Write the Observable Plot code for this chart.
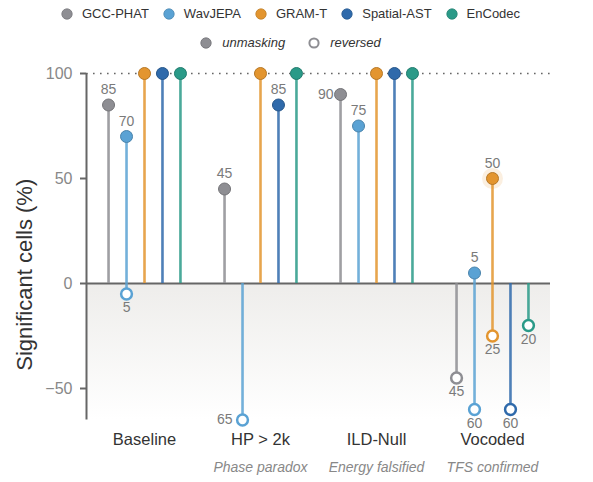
<!DOCTYPE html>
<html>
<head>
<meta charset="utf-8">
<script src="https://cdn.jsdelivr.net/npm/d3@7"></script>
<script src="https://cdn.jsdelivr.net/npm/@observablehq/plot@0.6"></script>
<style>
  html, body { margin: 0; padding: 0; background: #fff; }
  body { width: 593px; height: 482px; overflow: hidden; font-family: "Liberation Sans", Arial, Helvetica, sans-serif; }
  #legend { height: 58px; width: 593px; box-sizing: border-box; padding-right: 12px; }
  .row { display: flex; justify-content: center; align-items: center; color: #333; font-size: 13px; }
  .row1 { height: 27px; }
  .row2 { height: 31px; font-style: italic; }
  .item { display: flex; align-items: center; margin: 0 7px; }
  .item svg { margin-right: 9px; }
  .row2 .item { margin: 0 11.5px; }
  .row2 .item svg { margin-right: 10px; }
  #chart svg { display: block; }
</style>
</head>
<body>
<div id="legend"></div>
<div id="chart"></div>
<script>
// ---- data ----
const conditions = ["Baseline", "HP > 2k", "ILD-Null", "Vocoded"];
const subtitles = ["", "Phase paradox", "Energy falsified", "TFS confirmed"];
const models = ["GCC-PHAT", "WavJEPA", "GRAM-T", "Spatial-AST", "EnCodec"];
const colors = ["#8e8e93", "#5aa2d4", "#e3952f", "#2f6aab", "#2a9a88"];
// % significant cells per condition (rows) and model (columns)
const unmasking = [
  [85, 70, 100, 100, 100],
  [45, null, 100, 85, 100],
  [90, 75, 100, 100, 100],
  [null, 5, 50, null, null]
];
const reversed = [
  [null, 5, null, null, null],
  [null, 65, null, null, null],
  [null, null, null, null, null],
  [45, 60, 25, 60, 20]
];
const highlighted = [{condition: "Vocoded", model: "GRAM-T", kind: "unmasking"}];
const yTicks = [-50, 0, 50, 100];
const yDomain = [-65, 100];
const kinds = ["unmasking", "reversed"];

// ---- build table ----
const rows = [];
conditions.forEach((c, ci) => {
  models.forEach((m, mi) => {
    const u = unmasking[ci][mi];
    if (u != null) rows.push({condition: c, ci, model: m, mi, kind: "unmasking", v: u, y: u});
    const r = reversed[ci][mi];
    if (r != null) rows.push({condition: c, ci, model: m, mi, kind: "reversed", v: r, y: -r});
  });
});
rows.forEach(d => {
  d.hl = highlighted.some(h => h.condition === d.condition && h.model === d.model && h.kind === d.kind);
});

const OFFSET = 0.155;
const xOf = d => d.ci + (d.mi - 2) * OFFSET;
const colorOf = d => colors[models.indexOf(d.model)];
const darkOf = d => d3.color(colorOf(d)).darker(0.6).formatHex();

const labelRows = rows.filter(d => d.v < 100);
const isLeft = d => (d.kind === "unmasking" && d.v >= 88) || (d.kind === "reversed" && d.v >= 62);
const above = labelRows.filter(d => d.kind === "unmasking" && !isLeft(d));
const below = labelRows.filter(d => d.kind === "reversed" && !isLeft(d));
const leftU = labelRows.filter(d => isLeft(d) && d.kind === "unmasking");
const leftR = labelRows.filter(d => isLeft(d) && d.kind === "reversed");

// ---- legend ----
const legend = document.getElementById("legend");
const r1 = document.createElement("div"); r1.className = "row row1";
models.forEach((m, i) => {
  const it = document.createElement("div"); it.className = "item";
  it.innerHTML = `<svg width="12" height="12"><circle cx="6" cy="6" r="5.2" fill="${colors[i]}" stroke="${d3.color(colors[i]).darker(0.5)}" stroke-width="0.8"/></svg><span>${m}</span>`;
  r1.appendChild(it);
});
const r2 = document.createElement("div"); r2.className = "row row2";
kinds.forEach(k => {
  const it = document.createElement("div"); it.className = "item";
  const circ = k === "unmasking"
    ? `<circle cx="6" cy="6" r="5.2" fill="#8e8e93" stroke="#6f6f74" stroke-width="0.8"/>`
    : `<circle cx="6" cy="6" r="4.6" fill="#fff" stroke="#8e8e93" stroke-width="2"/>`;
  it.innerHTML = `<svg width="12" height="12">${circ}</svg><span>${k}</span>`;
  r2.appendChild(it);
});
legend.appendChild(r1); legend.appendChild(r2);

// ---- gradient defs ----
const defs = () => {
  const s = d3.create("svg:defs");
  const g = s.append("linearGradient").attr("id", "negGrad").attr("x1", 0).attr("y1", 0).attr("x2", 0).attr("y2", 1);
  g.append("stop").attr("offset", "0%").attr("stop-color", "#eeedeb");
  g.append("stop").attr("offset", "100%").attr("stop-color", "#ffffff");
  return s.node();
};

const chart = Plot.plot({
  width: 593,
  height: 424,
  marginLeft: 86,
  marginRight: 43,
  marginTop: 15,
  marginBottom: 62.5,
  style: {fontFamily: "'Liberation Sans', Arial, Helvetica, sans-serif", background: "transparent"},
  x: {domain: [-0.5, conditions.length - 0.5], axis: null},
  y: {domain: yDomain, axis: null},
  color: {type: "identity"},
  marks: [
    defs,
    Plot.rect([yDomain], {x1: -0.5, x2: conditions.length - 0.5, y1: d => d[0], y2: 0, fill: "url(#negGrad)"}),
    Plot.ruleY([100], {stroke: "#666", strokeWidth: 1.6, strokeDasharray: "1.6 5.4"}),
    Plot.ruleY([0], {stroke: "#666", strokeWidth: 2}),
    Plot.ruleX([-0.5], {y1: yDomain[0], y2: yDomain[1], stroke: "#666", strokeWidth: 2}),
    Plot.axisY({ticks: yTicks, tickSize: 6, tickPadding: 8, stroke: "#666", strokeWidth: 2, fill: "#888", fontSize: 16, label: null}),
    Plot.text(["Significant cells (%)"], {frameAnchor: "left", textAnchor: "middle", rotate: -90, dx: -62, dy: 28, fontSize: 22, fill: "#333"}),
    Plot.text(conditions, {x: (d, i) => i, text: d => d, frameAnchor: "bottom", dy: 25, fontSize: 16.5, fill: "#333"}),
    Plot.text(subtitles, {x: (d, i) => i, text: d => d, frameAnchor: "bottom", dy: 52, fontSize: 14, fill: "#888", fontStyle: "italic"}),
    Plot.ruleX(rows, {x: xOf, y1: 0, y2: "y", stroke: colorOf, strokeWidth: 2.6, strokeOpacity: 0.85}),
    Plot.dot(rows.filter(d => d.hl), {x: xOf, y: "y", r: 10.5, fill: colorOf, fillOpacity: 0.15}),
    Plot.dot(rows.filter(d => d.kind === "unmasking"), {x: xOf, y: "y", r: 6, fill: colorOf, stroke: darkOf, strokeWidth: 1}),
    Plot.dot(rows.filter(d => d.kind === "reversed"), {x: xOf, y: "y", r: 5.4, fill: "#fff", stroke: colorOf, strokeWidth: 2.5}),
    Plot.text(above, {x: xOf, y: "y", text: d => String(d.v), dy: -15, fontSize: 14, fill: "#7a7a7a"}),
    Plot.text(below, {x: xOf, y: "y", text: d => String(d.v), dy: 14, fontSize: 14, fill: "#7a7a7a"}),
    Plot.text(leftU, {x: xOf, y: "y", text: d => String(d.v), dx: -7, textAnchor: "end", fontSize: 14, fill: "#7a7a7a"}),
    Plot.text(leftR, {x: xOf, y: "y", text: d => String(d.v), dx: -10, textAnchor: "end", fontSize: 14, fill: "#7a7a7a"})
  ]
});
document.getElementById("chart").appendChild(chart);
</script>
</body>
</html>
